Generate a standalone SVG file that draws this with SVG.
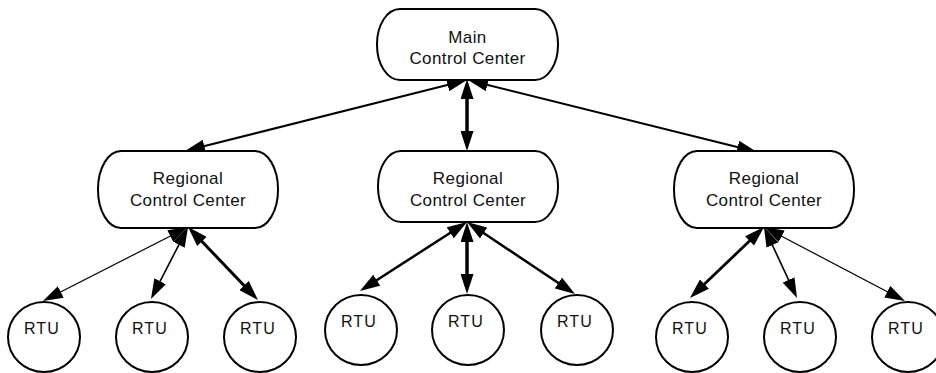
<svg xmlns="http://www.w3.org/2000/svg" width="936" height="373" viewBox="0 0 936 373">
<style>
.box{fill:#fff;stroke:#000;stroke-width:2}
.t{font-family:"Liberation Sans",Arial,sans-serif;font-size:17px;letter-spacing:0.4px;fill:#111;text-anchor:middle}
.r{font-family:"Liberation Sans",Arial,sans-serif;font-size:16px;letter-spacing:1.2px;fill:#111;text-anchor:middle}
.c{fill:none;stroke:#000;marker-start:url(#ah);marker-end:url(#ah)}
</style>
<defs>
<marker id="ah" viewBox="0 0 20 13" markerUnits="userSpaceOnUse" markerWidth="20" markerHeight="13" refX="14" refY="6.5" orient="auto-start-reverse">
<path d="M0,0 L20,6.5 L0,13 z" fill="#000"/>
</marker>
</defs>
<rect width="936" height="373" fill="#fff"/>
<g id="connectors">
<line class="c" x1="461.2" y1="81.5" x2="190.8" y2="149.5" stroke-width="2"/>
<line class="c" x1="467" y1="85" x2="467" y2="145" stroke-width="3.5"/>
<line class="c" x1="473.8" y1="81.5" x2="751.2" y2="150.5" stroke-width="2"/>
<line class="c" x1="182.7" y1="229.7" x2="48.3" y2="298.3" stroke-width="1.2"/>
<line class="c" x1="185.3" y1="232.3" x2="153.7" y2="293.7" stroke-width="1.6"/>
<line class="c" x1="192.2" y1="231.3" x2="253.8" y2="295.7" stroke-width="3"/>
<line class="c" x1="462" y1="225.3" x2="365" y2="287.7" stroke-width="2.5"/>
<line class="c" x1="467" y1="228" x2="467" y2="288" stroke-width="3.5"/>
<line class="c" x1="472" y1="225.3" x2="570" y2="290.7" stroke-width="2.5"/>
<line class="c" x1="759.7" y1="231.2" x2="694.3" y2="293.8" stroke-width="2.8"/>
<line class="c" x1="766.5" y1="232.4" x2="794.5" y2="292.6" stroke-width="1.6"/>
<line class="c" x1="769.3" y1="229.8" x2="899.7" y2="298.2" stroke-width="1.2"/>
</g>
<g id="main">
<rect class="box" x="377" y="9" width="181" height="71" rx="23" ry="35"/>
<text class="t" x="467.5" y="43">Main</text>
<text class="t" x="467.5" y="64">Control Center</text>
</g>
<g id="regional-left">
<rect class="box" x="98" y="151" width="180" height="77" rx="23" ry="38"/>
<text class="t" x="188" y="184">Regional</text>
<text class="t" x="188" y="206">Control Center</text>
</g>
<g id="regional-middle">
<rect class="box" x="378" y="151" width="180" height="71" rx="23" ry="35"/>
<text class="t" x="468" y="184">Regional</text>
<text class="t" x="468" y="206">Control Center</text>
</g>
<g id="regional-right">
<rect class="box" x="674" y="151" width="180" height="77" rx="23" ry="38"/>
<text class="t" x="764" y="184">Regional</text>
<text class="t" x="764" y="206">Control Center</text>
</g>
<g id="rtu-1"><ellipse class="box" cx="44" cy="337" rx="36" ry="35"/><text class="r" x="42" y="334">RTU</text></g>
<g id="rtu-2"><ellipse class="box" cx="152" cy="337" rx="36" ry="35"/><text class="r" x="150" y="334">RTU</text></g>
<g id="rtu-3"><ellipse class="box" cx="260" cy="337" rx="36" ry="35"/><text class="r" x="258" y="334">RTU</text></g>
<g id="rtu-4"><ellipse class="box" cx="361" cy="330" rx="36" ry="35"/><text class="r" x="359" y="327">RTU</text></g>
<g id="rtu-5"><ellipse class="box" cx="468" cy="330" rx="36" ry="35"/><text class="r" x="466" y="327">RTU</text></g>
<g id="rtu-6"><ellipse class="box" cx="577" cy="330" rx="36" ry="35"/><text class="r" x="575" y="327">RTU</text></g>
<g id="rtu-7"><ellipse class="box" cx="692" cy="337" rx="36" ry="35"/><text class="r" x="690" y="334">RTU</text></g>
<g id="rtu-8"><ellipse class="box" cx="800" cy="337" rx="36" ry="35"/><text class="r" x="798" y="334">RTU</text></g>
<g id="rtu-9"><ellipse class="box" cx="908" cy="337" rx="36" ry="35"/><text class="r" x="906" y="334">RTU</text></g>
</svg>
